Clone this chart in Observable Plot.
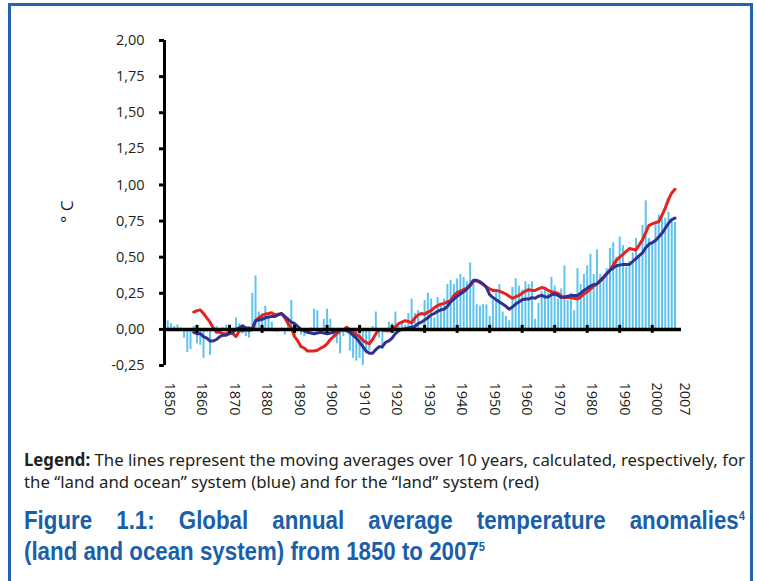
<!DOCTYPE html>
<html>
<head>
<meta charset="utf-8">
<script src="https://cdn.jsdelivr.net/npm/d3@7"></script>
<script src="https://cdn.jsdelivr.net/npm/@observablehq/plot@0.6"></script>
<style>
  html, body { margin: 0; padding: 0; background: #fff; }
  body { width: 757px; height: 581px; position: relative; overflow: hidden; font-family: "Open Sans", sans-serif; }
  #frame { position: absolute; left: 8px; top: 3px; width: 739px; height: 640px; border: 3px solid #2563ae; border-bottom: none; }
  #chart { position: absolute; left: 0; top: 0; }
  .ln { white-space: nowrap; transform-origin: 0 0; }
  .ln span { display: inline-block; }
  #legend { position: absolute; left: 24px; top: 449px; font-family: "Noto Sans", sans-serif; font-size: 17px; line-height: 22px; color: #231f20; }
  #title { position: absolute; left: 24px; top: 505px; font-family: "Liberation Sans", Arial, sans-serif; font-weight: bold; font-size: 26px; line-height: 31px; color: #1b5faa; }
  #title sup { font-size: 13px; vertical-align: 9px; line-height: 0; }
  #tl1 { text-align: justify; text-align-last: justify; white-space: normal; }
</style>
</head>
<body>
<div id="frame"></div>
<div id="chart"></div>
<div id="legend">
  <div class="ln" id="lg1"><span><b>Legend:</b> The lines represent the moving averages over 10 years, calculated, respectively, for</span></div>
  <div class="ln" id="lg2"><span>the “land and ocean” system (blue) and for the “land” system (red)</span></div>
</div>
<div id="title">
  <div class="ln" id="tl1">Figure 1.1: Global annual average temperature anomalies<sup>4</sup></div>
  <div class="ln" id="tl2"><span>(land and ocean system) from 1850 to 2007<sup>5</sup></span></div>
</div>
<script>
// Annual anomalies (°C), land and ocean, 1850–2007
const barStartYear = 1850;
const annualAnomaly = [
  0.03, 0.06, 0.04, 0.02, 0.03, 0.01, -0.06, -0.16, -0.14, 0.02,
  -0.10, -0.11, -0.20, -0.02, -0.18, 0.00, 0.02, -0.01, 0.01, 0.03,
  0.02, 0.00, 0.08, 0.04, -0.03, -0.05, -0.06, 0.25, 0.37, 0.12,
  0.11, 0.16, 0.10, 0.05, -0.02, -0.02, 0.01, -0.04, 0.08, 0.20,
  -0.04, 0.01, -0.04, -0.05, -0.03, 0.01, 0.14, 0.13, 0.00, 0.07,
  0.14, 0.07, -0.05, -0.10, -0.17, -0.05, 0.00, -0.15, -0.20, -0.22,
  -0.20, -0.25, -0.17, -0.15, 0.02, 0.12, -0.06, -0.14, 0.00, 0.05,
  0.04, 0.12, 0.02, 0.04, 0.03, 0.11, 0.21, 0.11, 0.13, -0.02,
  0.20, 0.25, 0.21, 0.08, 0.22, 0.17, 0.21, 0.31, 0.34, 0.31,
  0.35, 0.38, 0.36, 0.33, 0.46, 0.33, 0.17, 0.16, 0.17, 0.17,
  0.09, 0.20, 0.27, 0.31, 0.12, 0.09, 0.06, 0.29, 0.35, 0.30,
  0.27, 0.33, 0.31, 0.33, 0.07, 0.18, 0.26, 0.28, 0.25, 0.36,
  0.30, 0.21, 0.28, 0.44, 0.20, 0.25, 0.13, 0.42, 0.31, 0.38,
  0.44, 0.52, 0.38, 0.55, 0.38, 0.37, 0.42, 0.56, 0.60, 0.50,
  0.64, 0.58, 0.43, 0.47, 0.53, 0.63, 0.50, 0.72, 0.89, 0.63,
  0.61, 0.74, 0.79, 0.80, 0.77, 0.81, 0.76, 0.74
];

// 10-year moving averages, 1859–2007
const lineStartYear = 1859;
const landOceanAvg = [
  -0.02,
  -0.03, -0.03, -0.05, -0.06, -0.08, -0.08, -0.07, -0.05, -0.04, -0.04,
  -0.03, -0.02, 0.00, 0.01, 0.025, 0.01, 0.01, 0.00, 0.06, 0.065,
  0.07, 0.08, 0.085, 0.09, 0.09, 0.10, 0.11, 0.09, 0.07, 0.05,
  0.04, 0.02, 0.00, -0.01, -0.02, -0.025, -0.03, -0.025, -0.02, -0.025,
  -0.03, -0.025, -0.02, -0.01, 0.00, 0.00, -0.01, -0.02, -0.04, -0.06,
  -0.09, -0.12, -0.15, -0.165, -0.165, -0.14, -0.12, -0.12, -0.09, -0.08,
  -0.06, -0.03, -0.01, 0.00, 0.005, 0.01, 0.015, 0.02, 0.04, 0.05,
  0.065, 0.08, 0.10, 0.11, 0.125, 0.135, 0.14, 0.16, 0.19, 0.21,
  0.23, 0.245, 0.26, 0.28, 0.31, 0.34, 0.34, 0.33, 0.315, 0.29,
  0.24, 0.22, 0.205, 0.19, 0.175, 0.16, 0.14, 0.155, 0.175, 0.19,
  0.205, 0.21, 0.21, 0.22, 0.215, 0.23, 0.235, 0.225, 0.225, 0.24,
  0.245, 0.235, 0.22, 0.225, 0.23, 0.235, 0.235, 0.235, 0.25, 0.27,
  0.285, 0.30, 0.31, 0.315, 0.335, 0.36, 0.385, 0.41, 0.425, 0.44,
  0.445, 0.45, 0.45, 0.45, 0.47, 0.49, 0.51, 0.53, 0.565, 0.59,
  0.60, 0.615, 0.64, 0.665, 0.70, 0.735, 0.76, 0.77
];
const landAvg = [
  0.12,
  0.13, 0.135, 0.11, 0.08, 0.05, 0.01, -0.02, -0.02, -0.03, -0.03,
  -0.02, -0.03, -0.05, -0.01, -0.01, 0.00, -0.01, 0.00, 0.06, 0.08,
  0.095, 0.105, 0.11, 0.115, 0.10, 0.105, 0.11, 0.08, 0.04, 0.01,
  -0.05, -0.08, -0.12, -0.13, -0.15, -0.15, -0.15, -0.145, -0.13, -0.12,
  -0.10, -0.07, -0.05, -0.03, -0.01, -0.005, 0.015, 0.00, -0.015, -0.035,
  -0.05, -0.075, -0.09, -0.10, -0.07, -0.03, 0.00, -0.005, -0.01, -0.01,
  0.00, 0.015, 0.04, 0.05, 0.06, 0.055, 0.045, 0.08, 0.10, 0.11,
  0.105, 0.12, 0.13, 0.15, 0.165, 0.175, 0.18, 0.19, 0.20, 0.235,
  0.255, 0.265, 0.275, 0.285, 0.30, 0.335, 0.335, 0.325, 0.31, 0.295,
  0.28, 0.27, 0.27, 0.265, 0.255, 0.245, 0.23, 0.215, 0.225, 0.235,
  0.25, 0.265, 0.275, 0.27, 0.27, 0.28, 0.29, 0.285, 0.27, 0.26,
  0.255, 0.25, 0.23, 0.22, 0.22, 0.22, 0.215, 0.21, 0.225, 0.245,
  0.26, 0.28, 0.30, 0.315, 0.34, 0.36, 0.385, 0.41, 0.445, 0.48,
  0.50, 0.52, 0.54, 0.56, 0.555, 0.55, 0.585, 0.62, 0.67, 0.72,
  0.73, 0.74, 0.745, 0.79, 0.84, 0.90, 0.945, 0.97
];

// Axis ticks
const yTicks = [-0.25, 0, 0.25, 0.5, 0.75, 1, 1.25, 1.5, 1.75, 2];
const decadeLabels = [1850, 1860, 1870, 1880, 1890, 1900, 1910, 1920, 1930, 1940, 1950, 1960, 1970, 1980, 1990, 2000];
const decadeTicks = decadeLabels.slice(1);
const lastYearLabel = [2007];

const bars = annualAnomaly.map((value, i) => ({year: barStartYear + i, value}));
const blueLine = landOceanAvg.map((value, i) => ({year: lineStartYear + i, value}));
const redLine = landAvg.map((value, i) => ({year: lineStartYear + i, value}));

const ink = "#231f20";
const fmt = d => d.toFixed(2).replace(".", ",");

const chart = Plot.plot({
  width: 757,
  height: 430,
  marginLeft: 164,
  marginRight: 76,
  marginTop: 40,
  marginBottom: 65,
  style: {fontFamily: "'Open Sans', sans-serif", fontSize: "14.5px", color: ink, background: "transparent"},
  x: {domain: [1850, 2009], axis: null},
  y: {domain: [-0.25, 2], axis: null},
  marks: [
    Plot.ruleX(bars, {x: "year", y1: 0, y2: "value", stroke: "#5ec4ef", strokeWidth: 2}),
    Plot.line(redLine, {x: "year", y: "value", stroke: "#e3231f", strokeWidth: 3}),
    Plot.line(blueLine, {x: "year", y: "value", stroke: "#2e3190", strokeWidth: 3}),
    Plot.ruleY([0], {stroke: "#000", strokeWidth: 3.5}),
    Plot.ruleX(decadeTicks, {x: d => d, y1: 0, y2: 0, insetTop: -4, insetBottom: -4, stroke: "#000", strokeWidth: 3}),
    Plot.ruleX([1850], {y1: -0.25, y2: 2, stroke: "#000", strokeWidth: 3}),
    Plot.axisY(yTicks, {anchor: "left", label: null, tickSize: 5, tickPadding: 15, strokeWidth: 3, stroke: "#000", tickFormat: fmt, fill: ink, fontSize: 14.5}),
    Plot.text(decadeLabels, {x: d => d, frameAnchor: "bottom", dy: 17, rotate: 90, textAnchor: "start", text: d => String(d), fill: ink, fontSize: 14.5}),
    Plot.text(lastYearLabel, {x: d => d, frameAnchor: "bottom", dx: 5, dy: 17, rotate: 90, textAnchor: "start", text: d => String(d), fill: ink, fontSize: 14.5}),
    Plot.text(["° C"], {frameAnchor: "left", dx: -97, dy: 20, rotate: -90, fill: ink, fontSize: 17})
  ]
});
document.getElementById("chart").append(chart);

// Narrow the caption and title lines horizontally so they fit their columns
function squeeze(measureEl, targetWidth, lineEls) {
  const w = measureEl.getBoundingClientRect().width;
  const s = w > 0 ? targetWidth / w : 1;
  lineEls.forEach(el => { el.style.transform = `scaleX(${s})`; });
  return s;
}
const lg1 = document.querySelector("#lg1 span");
squeeze(lg1, 721, [document.getElementById("lg1"), document.getElementById("lg2")]);

const tl2 = document.querySelector("#tl2 span");
const ts = squeeze(tl2, 461, [document.getElementById("tl1"), document.getElementById("tl2")]);
document.getElementById("tl1").style.width = (721 / ts) + "px";
</script>
</body>
</html>
